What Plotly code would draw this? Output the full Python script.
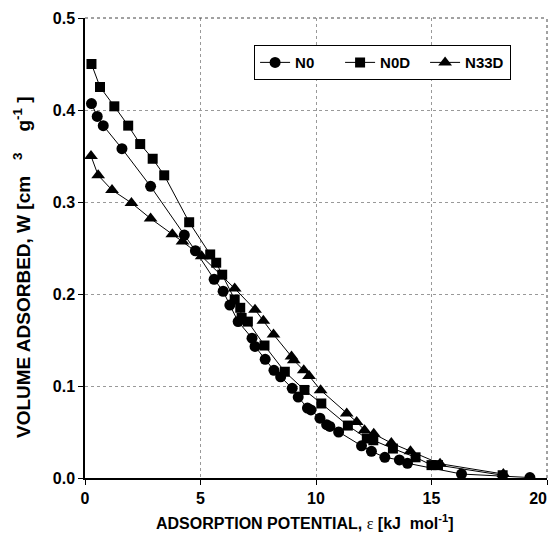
import plotly.graph_objects as go

n0_x = [0.28, 0.53, 0.79, 1.60, 2.84, 4.30, 4.78, 5.59, 5.98, 6.27, 6.63, 7.23, 7.36, 7.80,
        8.18, 8.47, 8.97, 9.23, 9.63, 9.78, 10.17, 10.46, 10.60, 10.98, 11.97, 12.40, 12.98,
        13.61, 13.96, 16.30, 19.26]
n0_y = [0.407, 0.393, 0.383, 0.358, 0.317, 0.264, 0.247, 0.216, 0.203, 0.188, 0.170, 0.152,
        0.143, 0.129, 0.117, 0.110, 0.0975, 0.088, 0.076, 0.074, 0.065, 0.058, 0.056, 0.050,
        0.035, 0.029, 0.0225, 0.0196, 0.016, 0.0043, 0.0005]

n0d_x = [0.28, 0.65, 1.27, 1.87, 2.39, 2.93, 3.43, 4.51, 5.42, 5.68, 5.94, 6.48, 6.72, 6.78,
         7.05, 7.77, 8.65, 9.50, 10.23, 11.38, 12.20, 12.48, 13.33, 14.31, 15.00, 15.28, 18.08]
n0d_y = [0.450, 0.425, 0.404, 0.383, 0.363, 0.347, 0.329, 0.278, 0.243, 0.234, 0.221, 0.194,
         0.185, 0.174, 0.170, 0.144, 0.1155, 0.0957, 0.081, 0.057, 0.043, 0.041, 0.032, 0.0225,
         0.014, 0.014, 0.003]

n33d_x = [0.26, 0.57, 1.17, 2.01, 2.84, 3.78, 4.22, 5.05, 6.48, 7.36, 7.72, 8.16, 8.94, 9.04,
          9.47, 9.70, 10.20, 11.33, 11.76, 12.10, 12.50, 13.26, 14.09, 15.37, 18.11]
n33d_y = [0.350, 0.329, 0.313, 0.299, 0.282, 0.265, 0.257, 0.241, 0.206, 0.183, 0.171, 0.156,
          0.132, 0.128, 0.117, 0.111, 0.0955, 0.070, 0.061, 0.052, 0.048, 0.038, 0.029, 0.0155,
          0.0043]

series = [
    ("N0", n0_x, n0_y, "circle", 11),
    ("N0D", n0d_x, n0d_y, "square", 10),
    ("N33D", n33d_x, n33d_y, "triangle-up", 12),
]

nb = "\u00a0"
x_ticks = [0, 5, 10, 15, 20]
x_tick_labels = ["0", "5", "10", "15", "20" + nb * 4]
y_ticks = [0, 0.1, 0.2, 0.3, 0.4, 0.5]

fig = go.Figure()
for name, xs, ys, sym, sz in series:
    fig.add_trace(go.Scatter(
        x=xs, y=ys, name=name, mode="lines+markers",
        line=dict(color="black", width=1),
        marker=dict(symbol=sym, size=sz, color="black"),
    ))

font_family = "Liberation Sans, Arial, sans-serif"

x_title = ("ADSORPTION POTENTIAL, <span style=\"font-family:'Liberation Serif';font-weight:normal\">ε</span> [kJ"
           + nb + nb + "mol<sup>-1</sup>]")
y_title = "VOLUME ADSORBED, W [cm" + nb * 3 + "<sup>3</sup>" + nb * 4 + "g<sup>-1</sup>" + nb + "]"

# page body has an 8px margin, so the figure is sized/offset to compensate
fig.update_layout(
    width=548, height=529,
    margin=dict(l=77, r=9, t=10, b=59),
    paper_bgcolor="white", plot_bgcolor="white",
    font=dict(family=font_family, color="black", size=15, weight="bold"),
    showlegend=True,
    legend=dict(
        orientation="h", x=0.366, y=0.941, xanchor="left", yanchor="top",
        bordercolor="black", borderwidth=1, bgcolor="white",
        font=dict(size=15, family=font_family, weight="bold"),
        entrywidth=40, entrywidthmode="pixels", tracegroupgap=0,
    ),
    xaxis=dict(
        range=[0, 20], tickvals=x_ticks, ticktext=x_tick_labels,
        showgrid=True, gridcolor="#999", griddash="dot", gridwidth=1,
        showline=True, linecolor="black", linewidth=1.5,
        ticks="outside", ticklen=5, tickcolor="black",
        zeroline=False, automargin=False, ticklabeloverflow="allow",
        tickfont=dict(size=16, weight="bold"),
    ),
    yaxis=dict(
        range=[0, 0.5], tickvals=y_ticks, tickformat=".1f",
        showgrid=True, gridcolor="#999", griddash="dot", gridwidth=1,
        showline=True, linecolor="black", linewidth=1.5,
        ticks="outside", ticklen=5, tickcolor="black",
        zeroline=False, automargin=False, ticklabeloverflow="allow",
        tickfont=dict(size=16, weight="bold"),
    ),
    annotations=[
        dict(text=x_title, xref="paper", yref="paper", x=0.476, y=-0.0957,
             xanchor="center", yanchor="middle", showarrow=False,
             font=dict(size=16, weight="bold")),
        dict(text=y_title, xref="paper", yref="paper", x=-0.136, y=0.459,
             xanchor="center", yanchor="middle", showarrow=False, textangle=-90,
             font=dict(size=19, weight="bold")),
    ],
    shapes=[
        dict(type="line", xref="paper", yref="paper", x0=0, x1=1, y0=1, y1=1,
             line=dict(color="#444", width=1, dash="dot")),
        dict(type="line", xref="paper", yref="paper", x0=1, x1=1, y0=0, y1=1,
             line=dict(color="#444", width=1, dash="dot")),
    ],
)

fig.write_html("out.html")
